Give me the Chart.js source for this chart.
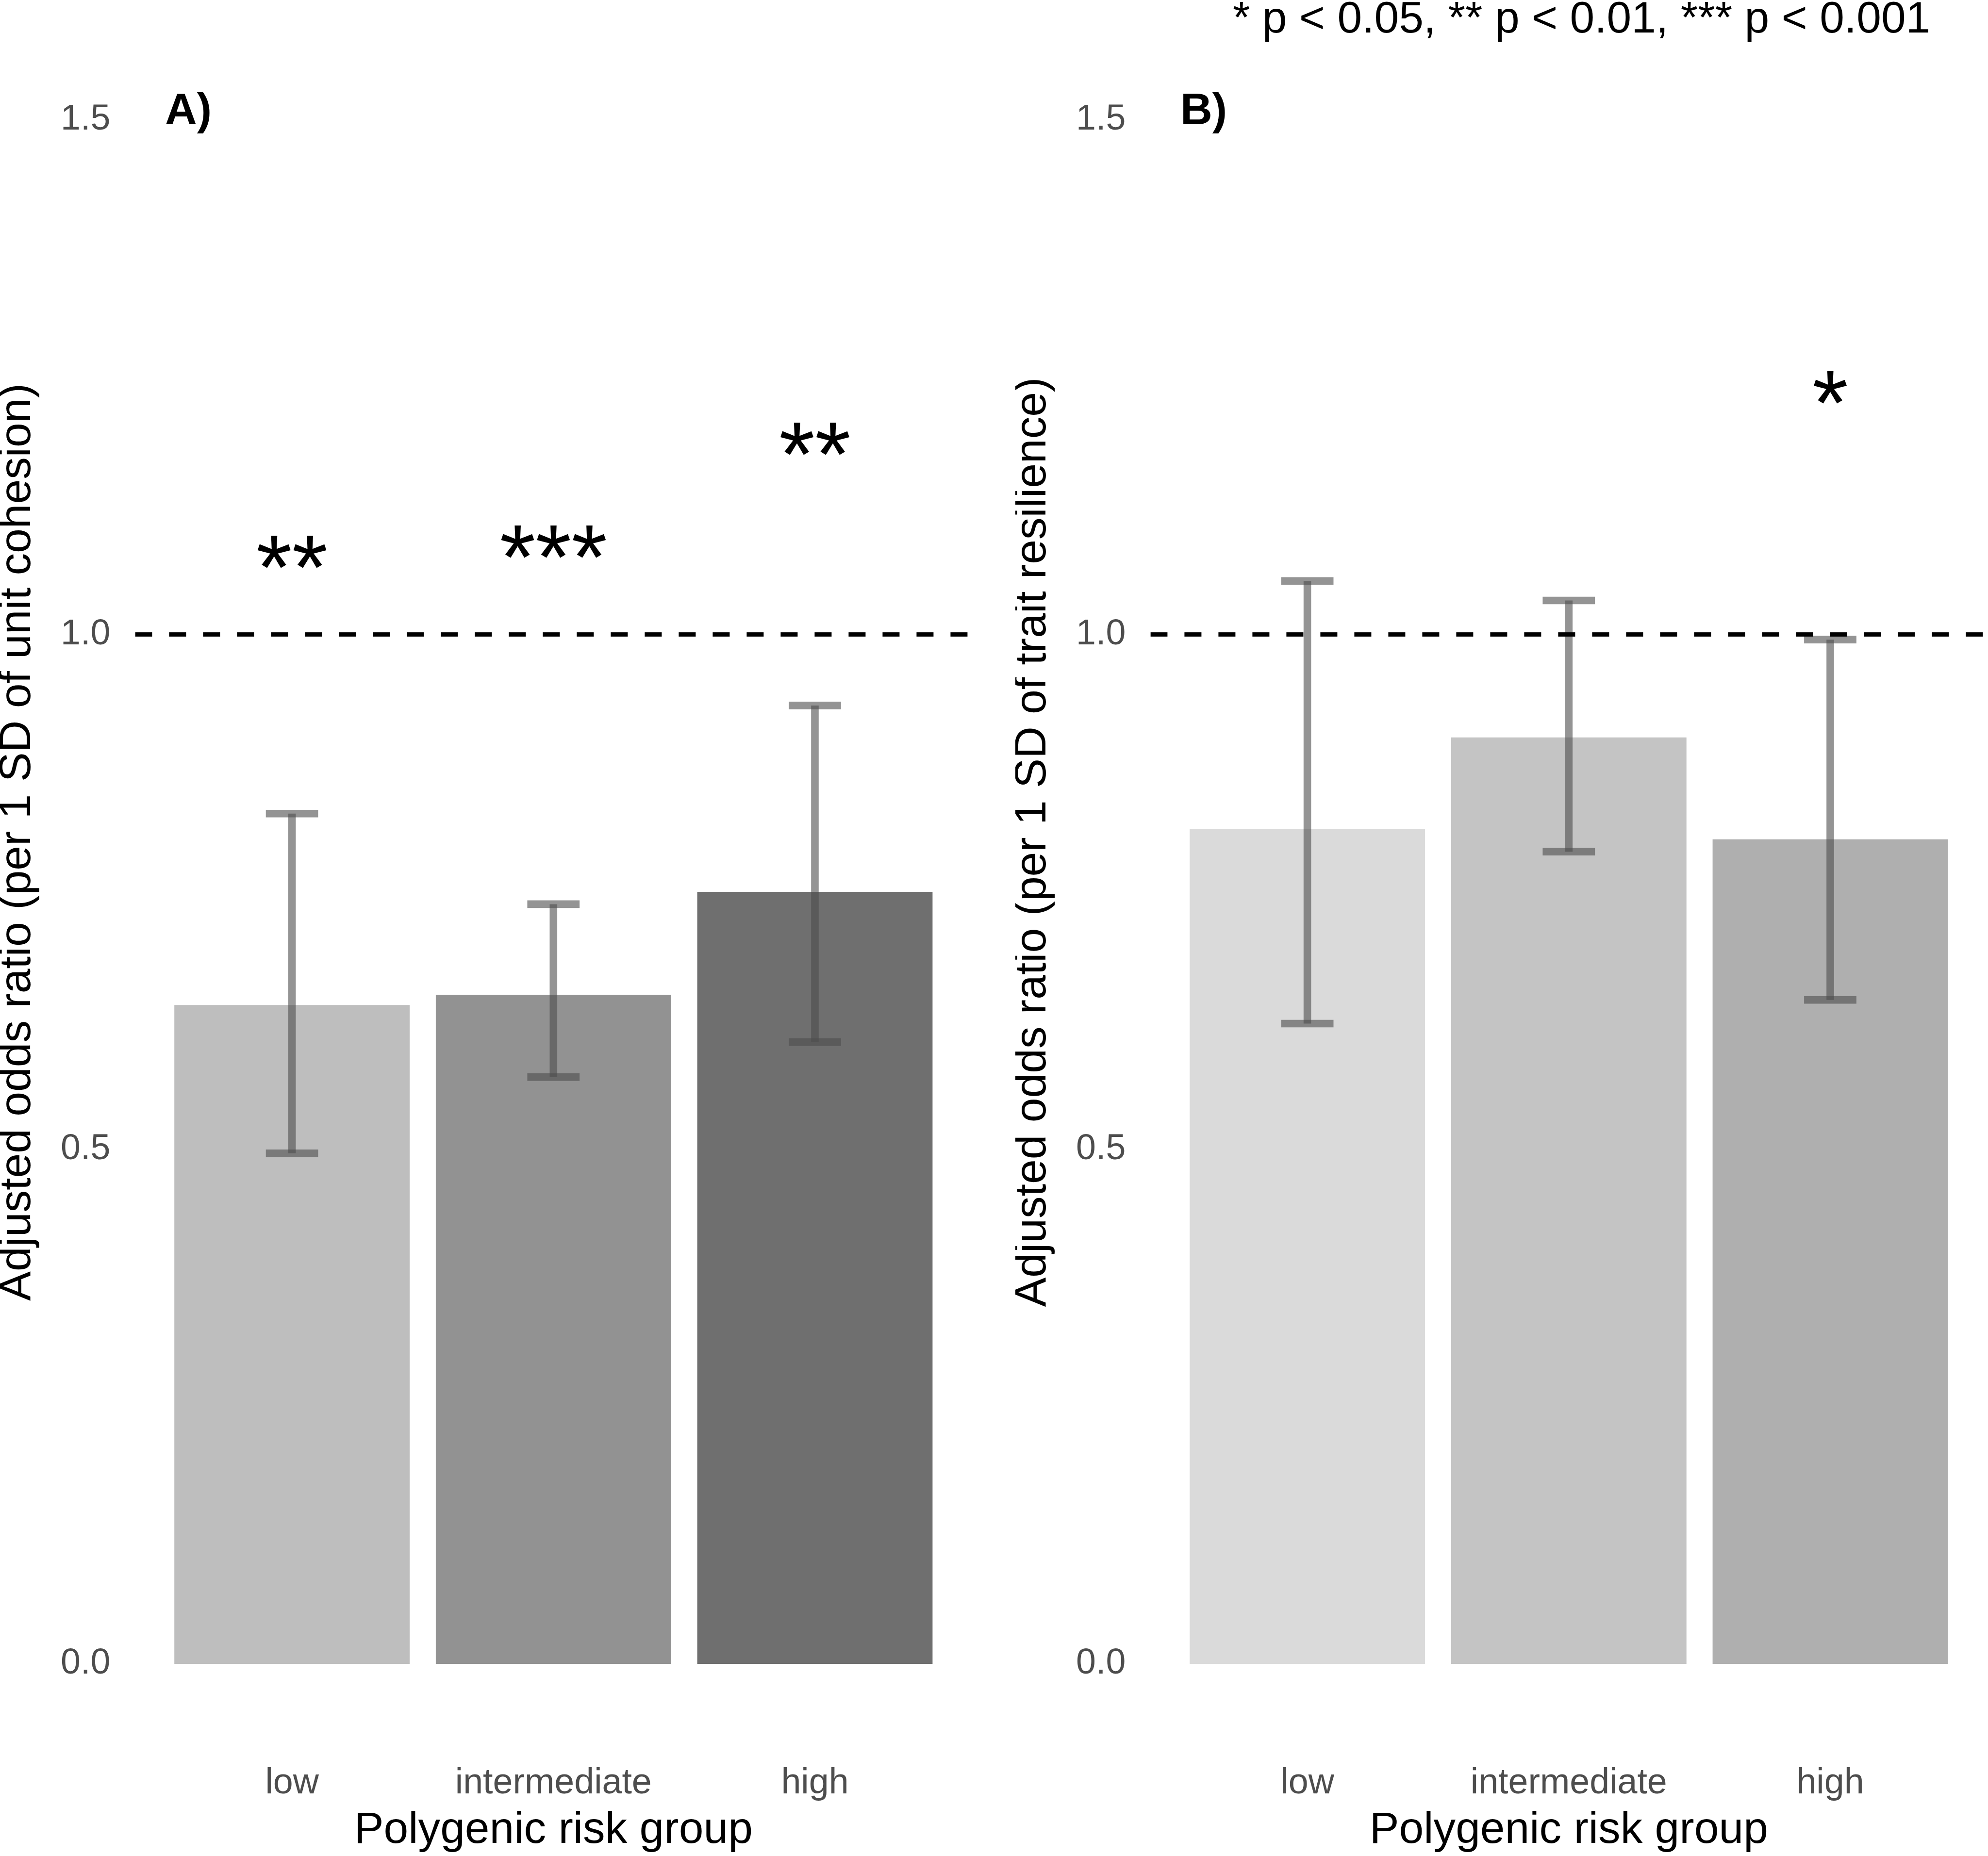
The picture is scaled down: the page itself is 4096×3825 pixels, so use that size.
<!DOCTYPE html>
<html>
<head>
<meta charset="utf-8">
<script src="https://cdn.jsdelivr.net/npm/chart.js@4.4.0/dist/chart.umd.min.js"></script>
<style>
  html, body { margin: 0; padding: 0; background: #fff; overflow: hidden; }
  #wrap { position: relative; width: 4096px; height: 3825px; }
  canvas { position: absolute; top: 0; }
</style>
</head>
<body>
<div id="wrap">
  <canvas id="chartA" width="2092" height="3825" style="left:0px"></canvas>
  <canvas id="chartB" width="2004" height="3825" style="left:2092px"></canvas>
</div>
<script>
// categories and tick values
const categories = ["low", "intermediate", "high"];
const yTicks = [0, 0.5, 1.0, 1.5];
const refLine = 1.0;

// A) per 1 SD of unit cohesion
const cohesionOR = [0.640, 0.650, 0.750];
const cohesionLower = [0.496, 0.570, 0.604];
const cohesionUpper = [0.826, 0.738, 0.931];
const cohesionStars = ["**", "***", "**"];
const cohesionStarY = [1.080, 1.090, 1.190];

// B) per 1 SD of trait resilience
const resilienceOR = [0.811, 0.900, 0.801];
const resilienceLower = [0.622, 0.789, 0.645];
const resilienceUpper = [1.052, 1.033, 0.995];
const resilienceStars = ["", "", "*"];
const resilienceStarY = [null, null, 1.240];

const FONT = "'Liberation Sans', Arial, Helvetica, sans-serif";
Chart.defaults.font.family = FONT;

function makePanel(canvasId, opts) {
  // error bars drawn right after the bars, so the dashed line stays on top
  const errorBars = {
    id: "errorBars",
    afterDatasetDraw(chart, args) {
      if (args.index !== 0) return;
      const { ctx, scales: { x, y } } = chart;
      const half = x.getPixelForValue(1.1) - x.getPixelForValue(1);
      ctx.save();
      ctx.strokeStyle = "rgba(77,77,77,0.6)";
      ctx.lineWidth = 15.6;
      ctx.lineCap = "butt";
      opts.lower.forEach((lo, i) => {
        const px = x.getPixelForValue(i + 1);
        const yLo = y.getPixelForValue(lo);
        const yHi = y.getPixelForValue(opts.upper[i]);
        ctx.beginPath();
        ctx.moveTo(px, yLo);
        ctx.lineTo(px, yHi);
        ctx.stroke();
        [yLo, yHi].forEach(py => {
          ctx.beginPath();
          ctx.moveTo(px - half, py);
          ctx.lineTo(px + half, py);
          ctx.stroke();
        });
      });
      ctx.restore();
    }
  };

  // significance stars + panel tag
  const labels = {
    id: "labels",
    afterDatasetsDraw(chart) {
      const { ctx, scales: { x, y } } = chart;
      ctx.save();
      ctx.fillStyle = "#000";
      ctx.font = "190px " + FONT;
      ctx.textAlign = "center";
      ctx.textBaseline = "alphabetic";
      opts.stars.forEach((s, i) => {
        if (!s) return;
        const m = ctx.measureText(s);
        const cy = y.getPixelForValue(opts.starY[i]);
        const base = cy + (m.actualBoundingBoxAscent - m.actualBoundingBoxDescent) / 2;
        ctx.fillText(s, x.getPixelForValue(i + 1), base);
      });
      ctx.font = "bold 91.2px " + FONT;
      ctx.textAlign = "left";
      ctx.fillText(opts.tag, 340, 256.4);
      if (opts.note) {
        ctx.font = "91.2px " + FONT;
        ctx.fillText(opts.note, 448, 67.3);
      }
      ctx.restore();
    }
  };

  return new Chart(document.getElementById(canvasId), {
    type: "bar",
    data: {
      datasets: [
        {
          type: "bar",
          data: opts.values.map((v, i) => ({ x: i + 1, y: v })),
          backgroundColor: opts.colors,
          borderWidth: 0,
          barPercentage: 0.9,
          categoryPercentage: 1.0,
          order: 2
        },
        {
          type: "line",
          data: [{ x: 0.4, y: refLine }, { x: 3.6, y: refLine }],
          borderColor: "#000",
          borderWidth: 8.8,
          borderDash: [35, 35],
          pointRadius: 0,
          fill: false,
          order: 1
        }
      ]
    },
    options: {
      responsive: false,
      animation: false,
      events: [],
      devicePixelRatio: 1,
      layout: { padding: { left: 0, right: opts.padRight, top: 42, bottom: 0 } },
      plugins: { legend: { display: false }, tooltip: { enabled: false } },
      scales: {
        x: {
          type: "linear",
          min: 0.4,
          max: 3.6,
          offset: false,
          grid: { display: false },
          border: { display: false },
          afterBuildTicks: s => { s.ticks = categories.map((c, i) => ({ value: i + 1 })); },
          afterFit: s => { s.height = 395.9; s.paddingLeft = 0; s.paddingRight = 0; },
          ticks: {
            callback: v => categories[v - 1] || "",
            autoSkip: false,
            maxRotation: 0,
            color: "#4d4d4d",
            padding: 194.8,
            font: { size: 73.6, lineHeight: 1.2 }
          },
          title: {
            display: true,
            text: "Polygenic risk group",
            color: "#000",
            padding: { top: 0, bottom: 16 },
            font: { size: 91.2, lineHeight: 0.8 }
          }
        },
        y: {
          min: 0,
          max: 1.5965,
          grid: { display: false },
          border: { display: false },
          afterBuildTicks: s => { s.ticks = yTicks.map(v => ({ value: v })); },
          afterFit: s => { s.width = 278.4; s.paddingTop = 0; s.paddingBottom = 0; },
          ticks: {
            callback: v => v.toFixed(1),
            color: "#4d4d4d",
            padding: 43,
            font: { size: 73.6, lineHeight: 1 }
          },
          title: {
            display: true,
            text: opts.yTitle,
            color: "#000",
            padding: { top: 0, bottom: 0 },
            font: { size: 91.2, lineHeight: 0.8 }
          }
        }
      }
    },
    plugins: [errorBars, labels]
  });
}

makePanel("chartA", {
  values: cohesionOR,
  lower: cohesionLower,
  upper: cohesionUpper,
  stars: cohesionStars,
  starY: cohesionStarY,
  colors: ["#bebebe", "#929292", "#6f6f6f"],
  yTitle: "Adjusted odds ratio (per 1 SD of unit cohesion)",
  tag: "A)",
  padRight: 89.8
});

makePanel("chartB", {
  values: resilienceOR,
  lower: resilienceLower,
  upper: resilienceUpper,
  stars: resilienceStars,
  starY: resilienceStarY,
  colors: ["#dadada", "#c4c4c4", "#afafaf"],
  yTitle: "Adjusted odds ratio (per 1 SD of trait resilience)",
  tag: "B)",
  note: "* p < 0.05, ** p < 0.01, *** p < 0.001",
  padRight: 1.8
});
</script>
</body>
</html>
